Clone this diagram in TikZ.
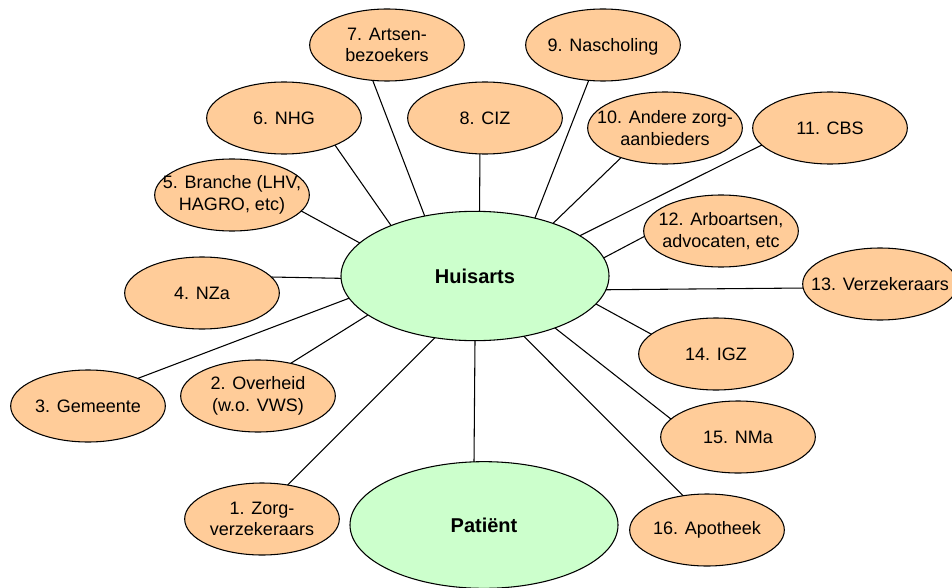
\documentclass[tikz,border=0pt]{standalone}
\usepackage{fontspec}
\setmainfont{Liberation Sans}
\usetikzlibrary{shapes.geometric}
\definecolor{Peach}{HTML}{FFCC99}
\definecolor{Mint}{HTML}{CCFFCC}
\definecolor{Ink}{HTML}{000000}

\begin{document}
\begin{tikzpicture}[
  x=0.75pt,y=-0.75pt,
  org/.style={ellipse,draw=Ink,line width=0.8pt,fill=Peach,minimum width=116pt,minimum height=54pt,inner sep=0pt,outer sep=0pt},
  hub/.style={ellipse,draw=Ink,line width=0.8pt,fill=Mint,minimum width=201pt,inner sep=0pt,outer sep=0pt,text height=10.7pt,text depth=0pt,font=\fontsize{15}{18}\selectfont\bfseries},
  txt/.style={font=\fontsize{13.5}{16.3}\selectfont,align=center,text=Ink,inner sep=0pt},
  link/.style={line width=0.8pt,draw=Ink}
]
\useasboundingbox (0,0) rectangle (952,588);
\node[hub,minimum height=97pt] (H) at (475,276) {Huisarts};
\node[hub,minimum height=95pt] (P) at (484,525) {Patiënt};
\node[org,label={[txt]center:1. Zorg-\\verzekeraars}] (n1) at (262,519) {};
\node[org,label={[txt]center:2. Overheid\\(w.o. VWS)}] (n2) at (258,396) {};
\node[org,label={[txt]center:3. Gemeente}] (n3) at (88,406) {};
\node[org,label={[txt]center:4. NZa}] (n4) at (202,293) {};
\node[org,label={[txt]center:5. Branche (LHV,\\HAGRO, etc)}] (n5) at (232,195) {};
\node[org,label={[txt]center:6. NHG}] (n6) at (284,118) {};
\node[org,label={[txt]center:7. Artsen-\\bezoekers}] (n7) at (387,45) {};
\node[org,label={[txt]center:8. CIZ}] (n8) at (485,118) {};
\node[org,label={[txt,text depth=0pt]center:9. Nascholing}] (n9) at (603,45) {};
\node[org,label={[txt]center:10. Andere zorg-\\aanbieders}] (n10) at (665,128) {};
\node[org,label={[txt]center:11. CBS}] (n11) at (830,128) {};
\node[org,label={[txt]center:12. Arboartsen,\\advocaten, etc}] (n12) at (721,231) {};
\node[org,label={[txt]center:13. Verzekeraars}] (n13) at (880,284) {};
\node[org,label={[txt]center:14. IGZ}] (n14) at (716,354) {};
\node[org,label={[txt]center:15. NMa}] (n15) at (738,437) {};
\node[org,label={[txt]center:16. Apotheek}] (n16) at (707,530) {};
% spokes
\draw[link] (n1.53)--(H.237);
\draw[link] (n2.45)--(H.200);
\draw[link] (n3.29)--(H.190);
\draw[link] (n4.13)--(H.181);
\draw[link] (n5.-13)--(H.164);
\draw[link] (n6.-28)--(H.149);
\draw[link] (n7.248)--(H.130);
\draw[link] (n8.262)--(H.86);
\draw[link] (n9.248)--(H.44);
\draw[link] (n10.214)--(H.34);
\draw[link] (n11.194)--(H.21);
\draw[link] (n12.184)--(H.8);
\draw[link] (n13.183)--(H.-6);
\draw[link] (n14.163)--(H.-13);
\draw[link] (n15.165)--(H.-33);
\draw[link] (n16.125)--(H.-51);
\draw[link] (P.99)--(H.-90);
\end{tikzpicture}
\end{document}
